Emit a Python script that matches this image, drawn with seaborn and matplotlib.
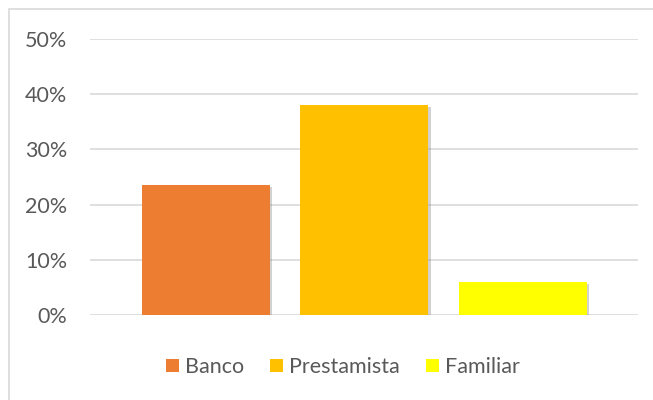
import matplotlib
matplotlib.use("Agg")
import matplotlib.pyplot as plt
import matplotlib.patheffects as pe
from matplotlib.patches import Patch, Rectangle
import seaborn as sns
import pandas as pd

categories = ["Banco", "Prestamista", "Familiar"]
values = [0.235, 0.381, 0.060]
colors = ["#ED7D31", "#FFC000", "#FFFF00"]
yticks = [0, 0.1, 0.2, 0.3, 0.4, 0.5]
ytick_labels = ["0%", "10%", "20%", "30%", "40%", "50%"]

sns.set_theme(style="white")
plt.rcParams["font.family"] = ["Lato", "DejaVu Sans"]

df = pd.DataFrame({"cat": categories, "val": values})

fig = plt.figure(figsize=(6.53, 4.0), dpi=100)
ax = fig.add_axes([90 / 653, 85 / 400, (638 - 90) / 653, (315 - 39) / 400])

sns.barplot(data=df, x="cat", y="val", hue="cat", palette=colors, dodge=False,
            width=0.808, ax=ax, legend=False, saturation=1)

for p in ax.patches:
    p.set_path_effects([pe.SimplePatchShadow(offset=(1.5, -1.5), alpha=0.35, shadow_rgbFace="#808080"), pe.Normal()])
    p.set_edgecolor("none")

ax.set_ylim(0, 0.5)
ax.set_xlim(-0.732, 2.726)
ax.set_yticks(yticks)
ax.set_yticklabels(ytick_labels)
ax.set_xticks([])
ax.set_xlabel("")
ax.set_ylabel("")
ax.tick_params(axis="y", length=0, pad=16.5, labelsize=15.5, labelcolor="#595959")
for s in ax.spines.values():
    s.set_visible(False)
ax.yaxis.grid(True, color="#D9D9D9", linewidth=1.2)
ax.set_axisbelow(True)

handles = [Patch(facecolor=c, edgecolor="none") for c in colors]
fig.legend(handles, categories, loc="center", bbox_to_anchor=(343 / 653, 1 - 367 / 400),
           ncol=3, frameon=False, fontsize=15.5, labelcolor="#595959",
           handlelength=0.6, handleheight=0.6, handletextpad=0.3, columnspacing=1.2)

fig.patches.append(Rectangle((9 / 653, -0.1), 1.2, 1 - 9 / 400 + 0.1, transform=fig.transFigure,
                             fill=False, edgecolor="#D9D9D9", linewidth=1.2, zorder=0))

fig.savefig("out.png", dpi=100)
